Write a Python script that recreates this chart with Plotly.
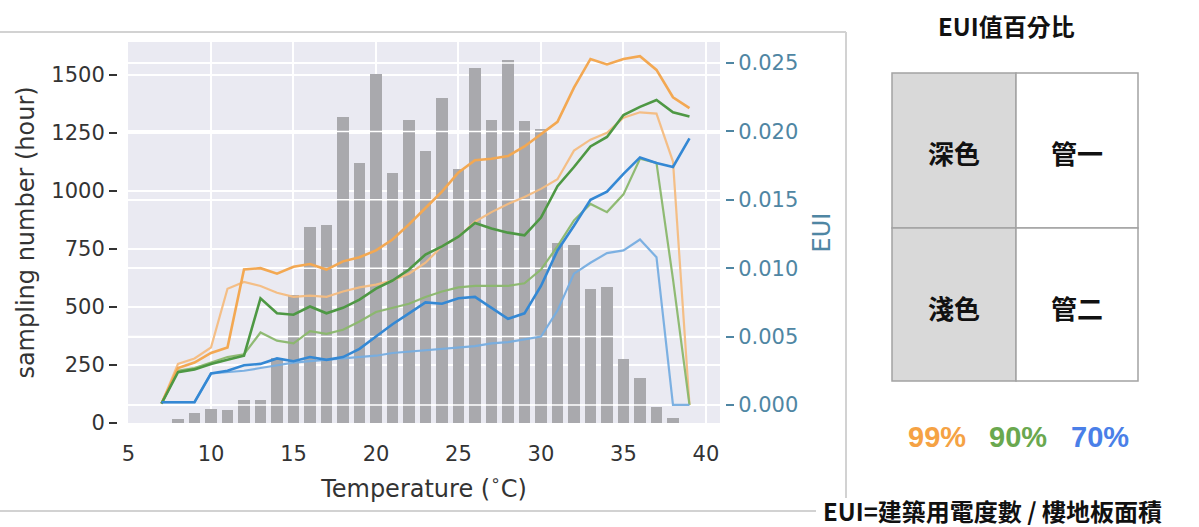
import plotly.graph_objects as go

# ---------------- data ----------------
T_BARS = list(range(8, 39))
HOURS = [17, 43, 60, 57, 100, 100, 280, 550, 845, 855, 1320, 1120, 1505, 1078,
         1305, 1172, 1400, 1095, 1530, 1305, 1565, 1300, 1265, 775, 768, 576,
         587, 275, 196, 67, 20]

T_LINES = list(range(7, 40))
EUI99_1 = [0.0001, 0.0027, 0.0031, 0.0038, 0.0042, 0.0099, 0.0100, 0.0096, 0.0101,
           0.0103, 0.0099, 0.0105, 0.0108, 0.0113, 0.0121, 0.0132, 0.0144, 0.0156,
           0.0170, 0.0179, 0.0180, 0.0182, 0.0189, 0.0198, 0.0207, 0.0232, 0.0253,
           0.0249, 0.0253, 0.0255, 0.0245, 0.0225, 0.0217]
EUI99_2 = [0.0001, 0.0030, 0.0034, 0.0042, 0.0085, 0.0090, 0.0087, 0.0082, 0.0079,
           0.0080, 0.0079, 0.0083, 0.0086, 0.0088, 0.0091, 0.0096, 0.0104, 0.0116,
           0.0123, 0.0134, 0.0141, 0.0147, 0.0152, 0.0158, 0.0165, 0.0186, 0.0194,
           0.0199, 0.0210, 0.0214, 0.0213, 0.0178, 0.0000]
EUI90_1 = [0.0001, 0.0024, 0.0026, 0.0030, 0.0033, 0.0036, 0.0078, 0.0067, 0.0066,
           0.0072, 0.0067, 0.0071, 0.0077, 0.0085, 0.0091, 0.0099, 0.0110, 0.0116,
           0.0123, 0.0133, 0.0129, 0.0126, 0.0124, 0.0137, 0.0160, 0.0174, 0.0189,
           0.0196, 0.0212, 0.0218, 0.0223, 0.0214, 0.0211]
EUI90_2 = [0.0001, 0.0025, 0.0027, 0.0031, 0.0035, 0.0037, 0.0053, 0.0047, 0.0045,
           0.0054, 0.0052, 0.0055, 0.0061, 0.0068, 0.0071, 0.0074, 0.0079, 0.0083,
           0.0086, 0.0087, 0.0087, 0.0087, 0.0089, 0.0099, 0.0116, 0.0135, 0.0147,
           0.0141, 0.0154, 0.0180, 0.0177, 0.0092, 0.0000]
EUI70_1 = [0.0002, 0.0002, 0.0002, 0.0023, 0.0025, 0.0029, 0.0030, 0.0034, 0.0032,
           0.0035, 0.0033, 0.0035, 0.0041, 0.0050, 0.0059, 0.0067, 0.0075, 0.0074,
           0.0078, 0.0079, 0.0071, 0.0063, 0.0067, 0.0087, 0.0113, 0.0131, 0.0150,
           0.0156, 0.0169, 0.0181, 0.0177, 0.0174, 0.0195]
EUI70_2 = [0.0002, 0.0002, 0.0002, 0.0023, 0.0024, 0.0025, 0.0027, 0.0029, 0.0031,
           0.0032, 0.0033, 0.0034, 0.0035, 0.0036, 0.0038, 0.0039, 0.0040, 0.0041,
           0.0042, 0.0043, 0.0045, 0.0046, 0.0048, 0.0050, 0.0069, 0.0096, 0.0104,
           0.0111, 0.0113, 0.0121, 0.0108, 0.0000, 0.0000]

X_TICKS = [5, 10, 15, 20, 25, 30, 35, 40]
HOUR_TICKS = [0, 250, 500, 750, 1000, 1250, 1500]
EUI_TICKS = [0.000, 0.005, 0.010, 0.015, 0.020, 0.025]
EUI_TICK_TEXT = ["0.000", "0.005", "0.010", "0.015", "0.020", "0.025"]

# ---------------- geometry / style ----------------
W, H = 1199, 527
def px(x):
    return x / W
def py(y):
    return 1 - y / H

X_RANGE = [4.97, 40.85]
Y1_RANGE = [0, 1642]
Y2_RANGE = [-0.00132, 0.02654]
BG = "#eaeaf2"
TEAL = "#4f86a3"
TXT = "#333333"

fig = go.Figure()

fig.add_trace(go.Bar(x=T_BARS, y=HOURS, width=0.68, yaxis="y",
                     marker=dict(color="#a9a9ad", line=dict(width=0)),
                     hoverinfo="skip", showlegend=False))

# secondary-axis grid drawn above the bars (as matplotlib twin axis does)
gx, gy = [], []
for v in EUI_TICKS:
    gx += [X_RANGE[0], X_RANGE[1], None]
    gy += [v, v, None]
fig.add_trace(go.Scatter(x=gx, y=gy, yaxis="y2", mode="lines",
                         line=dict(color="white", width=1.6),
                         hoverinfo="skip", showlegend=False))

series = [
    (EUI99_2, "rgba(244,188,128,0.95)", 2.2),
    (EUI90_2, "rgba(138,183,108,0.95)", 2.2),
    (EUI70_2, "rgba(118,173,224,0.95)", 2.2),
    (EUI99_1, "rgba(243,168,82,1)", 2.6),
    (EUI90_1, "rgba(78,152,68,1)", 2.6),
    (EUI70_1, "rgba(52,136,212,1)", 2.6),
]
for ys, col, w in series:
    fig.add_trace(go.Scatter(x=T_LINES, y=ys, yaxis="y2", mode="lines",
                             line=dict(color=col, width=w),
                             hoverinfo="skip", showlegend=False))

fig.update_layout(
    width=W, height=H,
    margin=dict(l=0, r=0, t=0, b=0),
    paper_bgcolor="white", plot_bgcolor=BG,
    font=dict(family="DejaVu Sans", color=TXT),
    bargap=0,
    xaxis=dict(domain=[px(128), px(720)], range=X_RANGE, tickvals=X_TICKS,
               automargin=False,
               showgrid=True, gridcolor="white", gridwidth=1.6, zeroline=False,
               showline=False, ticks="outside", ticklen=12,
               tickcolor="rgba(0,0,0,0)", tickfont=dict(size=21, color=TXT),
               title=dict(text="Temperature (<sup>∘</sup>C)",
                          font=dict(size=24, color=TXT), standoff=14)),
    yaxis=dict(domain=[py(423), py(42)], range=Y1_RANGE, tickvals=HOUR_TICKS,
               anchor="free", position=px(117), automargin=False,
               showgrid=True, gridcolor="white", gridwidth=1.6, zeroline=False,
               showline=False, ticks="outside", ticklen=8, tickwidth=2,
               tickcolor=TXT, tickfont=dict(size=21, color=TXT),
               title=dict(text="sampling number (hour)",
                          font=dict(size=24, color=TXT), standoff=8)),
    yaxis2=dict(overlaying="y", side="right", anchor="free", position=px(725),
                automargin=False,
                range=Y2_RANGE, tickvals=EUI_TICKS, ticktext=EUI_TICK_TEXT,
                showgrid=True, gridcolor="white", gridwidth=1.6, zeroline=False,
                showline=False, ticks="outside", ticklen=8, tickwidth=2,
                tickcolor=TEAL, tickfont=dict(size=21, color=TEAL),
                title=dict(text="EUI", font=dict(size=24, color=TEAL), standoff=15)),
)

shapes = []
# light frame around the chart panel
for (x0, y0, x1, y1) in [(0, 32, 846, 32), (846, 32, 846, 498), (0, 511, 816, 511)]:
    shapes.append(dict(type="line", xref="paper", yref="paper",
                       x0=px(x0), y0=py(y0), x1=px(x1), y1=py(y1),
                       line=dict(color="#d2d2d2", width=2), layer="below"))
# table cells
cells = [(892, 73, 1016, 228, "#d9d9d9"), (892, 228, 1016, 381, "#d9d9d9"),
         (1016, 73, 1138, 228, "white"), (1016, 228, 1138, 381, "white")]
for (x0, y0, x1, y1, fc) in cells:
    shapes.append(dict(type="rect", xref="paper", yref="paper",
                       x0=px(x0), y0=py(y0), x1=px(x1), y1=py(y1),
                       fillcolor=fc, line=dict(color="#a3a3a3", width=1.5)))
fig.update_layout(shapes=shapes)

CJK = "Noto Sans CJK TC"
ann = []
def add_text(text, x, y, size, color="#111111", family=CJK, xanchor="center"):
    ann.append(dict(text=text, x=px(x), y=py(y), xref="paper", yref="paper",
                    showarrow=False, xanchor=xanchor, yanchor="middle",
                    font=dict(size=size, color=color, family=family)))

add_text("<b>EUI值百分比</b>", 1007, 25, 24)
add_text("<b>深色</b>", 954, 153, 26)
add_text("<b>管一</b>", 1077, 153, 26)
add_text("<b>淺色</b>", 954, 307, 26)
add_text("<b>管二</b>", 1077, 307, 26)
add_text("<b>99%</b>", 937, 437, 29, color="#f5a244", family="Liberation Sans")
add_text("<b>90%</b>", 1018, 437, 29, color="#6aa84f", family="Liberation Sans")
add_text("<b>70%</b>", 1100, 437, 29, color="#4a7fe8", family="Liberation Sans")
add_text("<b>EUI=建築用電度數 / 樓地板面積</b>", 821, 510, 24, xanchor="left")
fig.update_layout(annotations=ann)

fig.write_html("out.html",
               config={"displayModeBar": False},
               post_script="document.body.style.margin='0px';"
                           "document.body.style.overflow='hidden';")
